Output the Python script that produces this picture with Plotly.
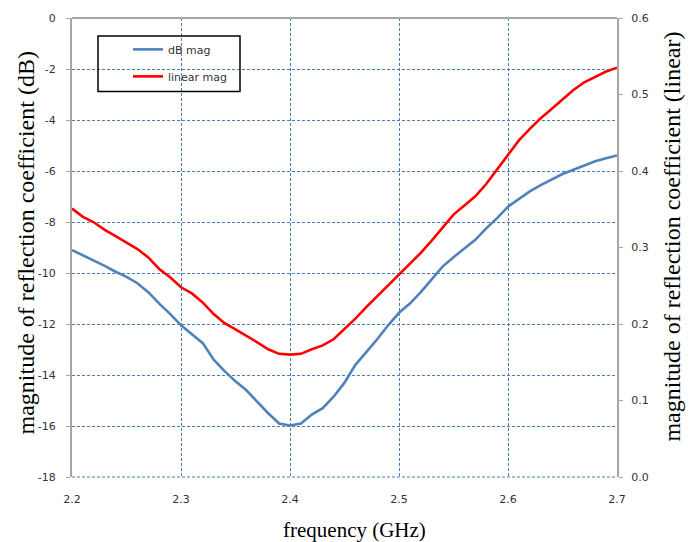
import plotly.graph_objects as go

freq_ghz = [2.20, 2.21, 2.22, 2.23, 2.24, 2.25, 2.26, 2.27, 2.28, 2.29,
            2.30, 2.31, 2.32, 2.33, 2.34, 2.35, 2.36, 2.37, 2.38, 2.39,
            2.40, 2.41, 2.42, 2.43, 2.44, 2.45, 2.46, 2.47, 2.48, 2.49,
            2.50, 2.51, 2.52, 2.53, 2.54, 2.55, 2.56, 2.57, 2.58, 2.59,
            2.60, 2.61, 2.62, 2.63, 2.64, 2.65, 2.66, 2.67, 2.68, 2.69, 2.70]

db_mag = [-9.10, -9.30, -9.50, -9.72, -9.95, -10.15, -10.40, -10.75, -11.20, -11.60,
          -12.05, -12.40, -12.75, -13.40, -13.85, -14.25, -14.60, -15.05, -15.50, -15.90,
          -15.98, -15.90, -15.55, -15.30, -14.85, -14.30, -13.60, -13.10, -12.60, -12.05,
          -11.56, -11.20, -10.75, -10.25, -9.75, -9.38, -9.05, -8.70, -8.25, -7.85,
          -7.40, -7.10, -6.80, -6.55, -6.32, -6.12, -5.95, -5.78, -5.62, -5.50, -5.39]

linear_mag = [0.351, 0.340, 0.333, 0.323, 0.315, 0.307, 0.298, 0.287, 0.272, 0.261,
              0.248, 0.240, 0.228, 0.213, 0.201, 0.193, 0.185, 0.176, 0.167, 0.161,
              0.160, 0.161, 0.167, 0.172, 0.180, 0.193, 0.207, 0.222, 0.236, 0.250,
              0.265, 0.278, 0.293, 0.309, 0.326, 0.343, 0.355, 0.367, 0.383, 0.402,
              0.422, 0.440, 0.455, 0.469, 0.481, 0.493, 0.506, 0.516, 0.523, 0.530, 0.535]

x_ticks = [2.2, 2.3, 2.4, 2.5, 2.6, 2.7]
x_tick_text = ["2.2", "2.3", "2.4", "2.5", "2.6", "2.7"]
db_ticks = [0, -2, -4, -6, -8, -10, -12, -14, -16, -18]
db_tick_text = ["0", "-2", "-4", "-6", "-8", "-10", "-12", "-14", "-16", "-18"]
lin_ticks = [0.0, 0.1, 0.2, 0.3, 0.4, 0.5, 0.6]
lin_tick_text = ["0.0", "0.1", "0.2", "0.3", "0.4", "0.5", "0.6"]

W, H = 691, 542
L, R, T, B = 72, 74, 15, 65
pw, ph = W - L - R, H - T - B

def px(xp):
    return (xp - L) / pw

def py(yp):
    return (H - B - yp) / ph

BLUE = "#4F81BD"
RED = "#FF0000"
GRID = "#4A7EBB"
GRIDDASH = "3px,2px"
AXIS = "#A6A6A6"
TICKFONT = dict(family="DejaVu Sans", size=11, color="#333333")
TITLEFONT = dict(family="Liberation Serif", size=24, color="#000000")

fig = go.Figure()
fig.add_trace(go.Scatter(x=freq_ghz, y=db_mag, mode="lines", name="dB mag",
                         line=dict(color=BLUE, width=2.6), legendgroup="a", yaxis="y"))
fig.add_trace(go.Scatter(x=freq_ghz, y=linear_mag, mode="lines", name="linear mag",
                         line=dict(color=RED, width=2.6), legendgroup="b", yaxis="y2"))

fig.update_layout(
    width=W, height=H, autosize=False,
    margin=dict(l=L, r=R, t=T, b=B),
    paper_bgcolor="white", plot_bgcolor="white",
    xaxis=dict(range=[2.2, 2.7], tickvals=x_ticks, ticktext=x_tick_text,
               showgrid=True, gridcolor=GRID, griddash=GRIDDASH, gridwidth=1,
               zeroline=False, showline=False, ticks="", ticklabelstandoff=14,
               tickfont=TICKFONT),
    yaxis=dict(range=[-18, 0], tickvals=db_ticks, ticktext=db_tick_text,
               showgrid=True, gridcolor=GRID, griddash=GRIDDASH, gridwidth=1,
               zeroline=False, showline=True, linecolor=AXIS, linewidth=2,
               ticks="outside", ticklen=4, tickcolor=AXIS, tickwidth=1,
               ticklabelstandoff=8, tickfont=TICKFONT),
    yaxis2=dict(range=[0, 0.6], tickvals=lin_ticks, ticktext=lin_tick_text,
                overlaying="y", side="right", showgrid=False, zeroline=False,
                showline=True, linecolor=AXIS, linewidth=2,
                ticks="outside", ticklen=4, tickcolor=AXIS, tickwidth=1,
                ticklabelstandoff=6, tickfont=TICKFONT),
    showlegend=True,
    legend=dict(x=px(128), y=py(32), xanchor="left", yanchor="top",
                bgcolor="rgba(0,0,0,0)", borderwidth=0,
                font=dict(family="DejaVu Sans", size=11, color="#333333"),
                tracegroupgap=8, itemwidth=30),
    shapes=[
        dict(type="line", xref="paper", yref="paper", x0=0, x1=1, y0=1, y1=1,
             line=dict(color=AXIS, width=2)),
        dict(type="line", xref="paper", yref="paper", x0=0, x1=1, y0=0, y1=0,
             line=dict(color=GRID, width=1, dash=GRIDDASH), layer="below"),
        dict(type="rect", xref="paper", yref="paper",
             x0=px(98), x1=px(240), y0=py(89), y1=py(33),
             line=dict(color="#000000", width=1.5), fillcolor="rgba(255,255,255,0)"),
    ],
    annotations=[
        dict(text="frequency (GHz)", xref="paper", yref="paper",
             x=px(354), y=py(530), xanchor="center", yanchor="middle",
             showarrow=False, font=dict(family="Liberation Serif", size=21, color="#000000")),
        dict(text="magnitude of reflection coefficient (dB)", xref="paper", yref="paper",
             x=px(26), y=py(242), xanchor="center", yanchor="middle", textangle=-90,
             showarrow=False, font=TITLEFONT),
        dict(text="magnitude of reflection coefficient (linear)", xref="paper", yref="paper",
             x=px(672), y=py(235), xanchor="center", yanchor="middle", textangle=-90,
             showarrow=False, font=TITLEFONT),
    ],
)

fig.write_html("out.html", config={"displayModeBar": False},
               post_script="document.body.style.margin='0';document.body.style.padding='0';"
                           "document.body.style.overflow='hidden';")
